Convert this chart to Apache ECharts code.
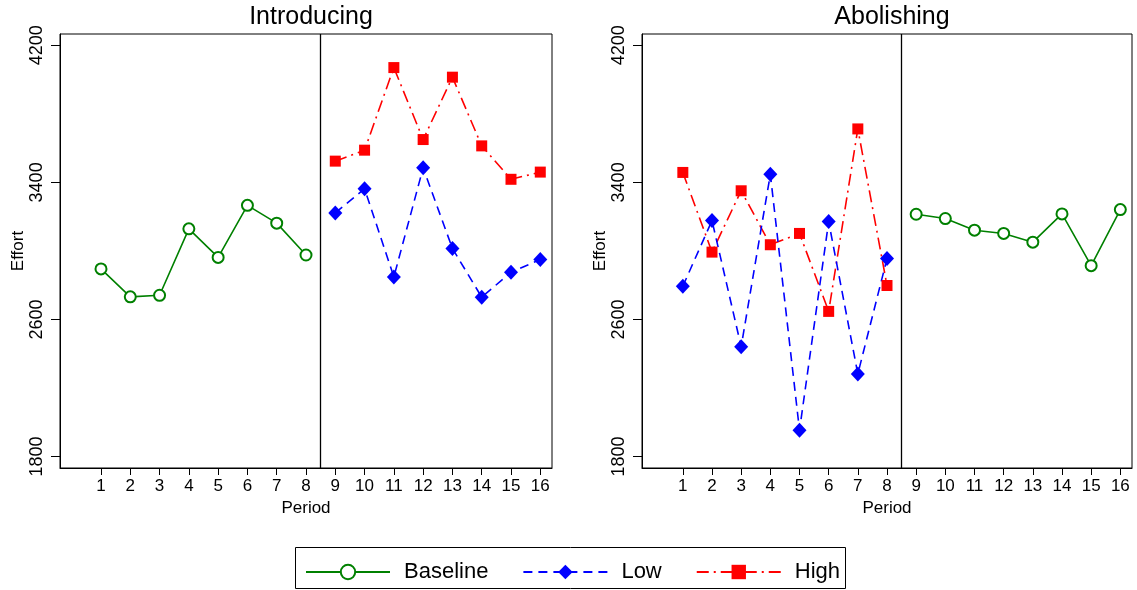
<!DOCTYPE html>
<html><head><meta charset="utf-8">
<script src="https://cdn.jsdelivr.net/npm/echarts@6/dist/echarts.min.js"></script>
<style>html,body{margin:0;padding:0;background:#fff}#c{width:1137px;height:590px}</style>
</head><body><div id="c"></div>
<script>
var periodsBefore = [1,2,3,4,5,6,7,8];
var periodsAfter = [9,10,11,12,13,14,15,16];
var xTicks = [1,2,3,4,5,6,7,8,9,10,11,12,13,14,15,16];
var yTicks = [1800,2600,3400,4200];

// Introducing panel
var introBaseline = [2895,2732,2741,3129,2962,3266,3162,2976];
var introLow = [3222,3363,2848,3485,3014,2730,2875,2950];
var introHigh = [3524,3588,4070,3650,4014,3613,3418,3460];

// Abolishing panel
var abolHigh = [3458,2993,3351,3036,3102,2647,3712,2798];
var abolLow = [2794,3177,2441,3447,1953,3171,2282,2955];
var abolBaseline = [3214,3189,3121,3102,3051,3216,2914,3241];

var panelTitles = ['Introducing','Abolishing'];
var FONT = '"Liberation Sans", Arial, sans-serif';
var GREEN = '#008000', BLUE = '#0000ff', RED = '#ff0000';

function pts(xs, ys){ return xs.map(function(x,i){ return [x, ys[i]]; }); }

function baseSeries(name, grid, data){
  return {name:name, type:'line', xAxisIndex:grid, yAxisIndex:grid, data:data,
    symbol:'emptyCircle', symbolSize:11, color:GREEN,
    itemStyle:{color:GREEN, borderColor:GREEN, borderWidth:1.5},
    lineStyle:{color:GREEN, width:1.6, type:'solid'}, animation:false, z:3};
}
function lowSeries(name, grid, data){
  return {name:name, type:'line', xAxisIndex:grid, yAxisIndex:grid, data:data,
    symbol:'diamond', symbolSize:[14,15], color:BLUE,
    itemStyle:{color:BLUE},
    lineStyle:{color:BLUE, width:1.6, type:[9,6]}, animation:false, z:3};
}
function highSeries(name, grid, data){
  return {name:name, type:'line', xAxisIndex:grid, yAxisIndex:grid, data:data,
    symbol:'rect', symbolSize:11, color:RED,
    itemStyle:{color:RED},
    lineStyle:{color:RED, width:1.6, type:[12,5,2,5]}, animation:false, z:3};
}
function divider(grid){
  return {type:'line', xAxisIndex:grid, yAxisIndex:grid, data:[], silent:true,
    markLine:{silent:true, symbol:'none', label:{show:false}, animation:false,
      lineStyle:{color:'#000', width:1.3, type:'solid'}, data:[{xAxis:8.5}]}};
}
function xAxis(grid){
  return {type:'value', gridIndex:grid, min:-0.4, max:16.4,
    name:'Period', nameLocation:'middle', nameGap:31,
    nameTextStyle:{fontFamily:FONT, fontSize:17, color:'#000'},
    axisLine:{show:true, onZero:false, lineStyle:{color:'#000', width:1}},
    axisTick:{show:true, customValues:xTicks, length:7, lineStyle:{color:'#000'}},
    axisLabel:{customValues:xTicks, margin:10, fontFamily:FONT, fontSize:17, color:'#000'},
    splitLine:{show:false}};
}
function yAxis(grid){
  return {type:'value', gridIndex:grid, min:1733, max:4266,
    name:'Effort', nameLocation:'middle', nameGap:32, nameRotate:90,
    nameTextStyle:{fontFamily:FONT, fontSize:17, color:'#000'},
    axisLine:{show:true, onZero:false, lineStyle:{color:'#000', width:1}},
    axisTick:{show:true, customValues:yTicks, length:9, lineStyle:{color:'#000'}},
    axisLabel:{customValues:yTicks, rotate:90, margin:14, fontFamily:FONT, fontSize:18, color:'#000',
      formatter:function(v){ return String(Math.round(v)); }},
    splitLine:{show:false}};
}

var chart = echarts.init(document.getElementById('c'), null, {renderer:'canvas'});
chart.setOption({
  backgroundColor:'#fff',
  animation:false,
  title:[
    {text:panelTitles[0], left:306, top:0, textAlign:'center', textStyle:{fontFamily:FONT, fontSize:25, fontWeight:'normal', color:'#000'}},
    {text:panelTitles[1], left:887, top:0, textAlign:'center', textStyle:{fontFamily:FONT, fontSize:25, fontWeight:'normal', color:'#000'}}
  ],
  grid:[
    {left:60, top:34, width:492, height:434, show:true, borderColor:'#000', borderWidth:1, backgroundColor:'#fff'},
    {left:642, top:34, width:490, height:434, show:true, borderColor:'#000', borderWidth:1, backgroundColor:'#fff'}
  ],
  xAxis:[xAxis(0), xAxis(1)],
  yAxis:[yAxis(0), yAxis(1)],
  legend:{
    data:['Baseline','Low','High'], left:300, top:556, itemWidth:84, itemHeight:18, itemGap:34,
    textStyle:{fontFamily:FONT, fontSize:22, color:'#000', padding:[0,0,0,9]},
    selectedMode:false
  },
  graphic:[{type:'rect', shape:{x:295.5, y:547.5, width:550, height:41}, style:{fill:null, stroke:'#000', lineWidth:1}, silent:true}],
  series:[
    baseSeries('Baseline', 0, pts(periodsBefore, introBaseline)),
    lowSeries('Low', 0, pts(periodsAfter, introLow)),
    highSeries('High', 0, pts(periodsAfter, introHigh)),
    divider(0),
    highSeries('High', 1, pts(periodsBefore, abolHigh)),
    lowSeries('Low', 1, pts(periodsBefore, abolLow)),
    baseSeries('Baseline', 1, pts(periodsAfter, abolBaseline)),
    divider(1)
  ]
});
</script></body></html>
